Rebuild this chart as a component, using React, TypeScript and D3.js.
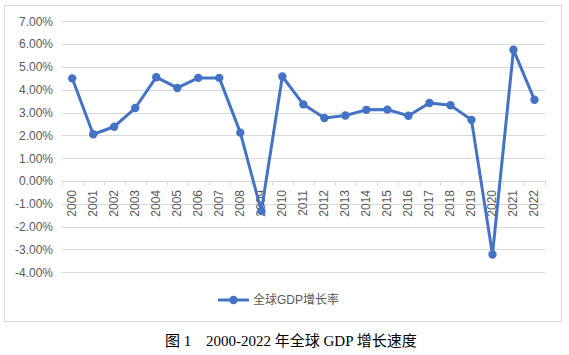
import React from "react";
import * as d3 from "d3";

const years = ["2000","2001","2002","2003","2004","2005","2006","2007","2008","2009","2010","2011","2012","2013","2014","2015","2016","2017","2018","2019","2020","2021","2022"];
const growth = [4.5, 2.05, 2.38, 3.2, 4.55, 4.08, 4.52, 4.52, 2.12, -1.32, 4.58, 3.36, 2.76, 2.87, 3.12, 3.13, 2.86, 3.42, 3.32, 2.68, -3.22, 5.75, 3.56];
const yTicks = [7, 6, 5, 4, 3, 2, 1, 0, -1, -2, -3, -4];
const seriesName = "全球GDP增长率";
const captionLabel = "图 1";
const captionText = "2000-2022 年全球 GDP 增长速度";

export default function App() {
  const W = 569, H = 355;
  const x = d3.scaleBand<string>().domain(years).range([61.7, 545]);
  const y = d3.scaleLinear().domain([-4, 7]).range([272.3, 21.3]);
  const line = d3.line<number>()
    .x((_, i) => (x(years[i]) as number) + x.bandwidth() / 2)
    .y((d) => y(d));
  const blue = "#4472C4";
  const grey = "#595959";
  const fontSans = "'Liberation Sans', Arial, sans-serif";
  return (
    <svg width={W} height={H} style={{ position: "absolute", left: 0, top: 0, background: "#fff" }}>
      <rect x={4.5} y={5.5} width={557} height={316} fill="#fff" stroke="#D9D9D9" strokeWidth={1} />
      {yTicks.map((t) => (
        <g key={t}>
          {t !== 0 && (
            <line x1={61.7} x2={545} y1={Math.round(y(t)) + 0.5} y2={Math.round(y(t)) + 0.5} stroke="#D9D9D9" strokeWidth={1} />
          )}
          <text x={53} y={y(t)} dy="0.36em" textAnchor="end" fontSize={12} fill={grey} fontFamily={fontSans}>
            {t.toFixed(2) + "%"}
          </text>
        </g>
      ))}
      <line x1={61.7} x2={545} y1={Math.round(y(0)) + 0.5} y2={Math.round(y(0)) + 0.5} stroke="#D9D9D9" strokeWidth={1} />
      {years.concat(["end"]).map((yr, i) => {
        const xx = 61.7 + i * x.step();
        return (
          <line key={"t" + i} x1={Math.round(xx) + 0.5} x2={Math.round(xx) + 0.5} y1={y(0)} y2={y(0) + 4.5} stroke="#D9D9D9" strokeWidth={1} />
        );
      })}
      {years.map((yr) => {
        const cx = (x(yr) as number) + x.bandwidth() / 2;
        return (
          <text key={yr} transform={`translate(${cx + 4},190) rotate(-90)`} textAnchor="end" fontSize={12} fill={grey} fontFamily={fontSans}>
            {yr}
          </text>
        );
      })}
      <path d={line(growth) || ""} fill="none" stroke={blue} strokeWidth={3} strokeLinejoin="round" />
      {growth.map((v, i) => (
        <circle key={i} cx={(x(years[i]) as number) + x.bandwidth() / 2} cy={y(v)} r={4.2} fill={blue} />
      ))}
      <g>
        <line x1={218} x2={249} y1={300} y2={300} stroke={blue} strokeWidth={3} />
        <circle cx={233.5} cy={300} r={4.2} fill={blue} />
        <text x={253} y={300} dy="0.36em" fontSize={12} fill={grey} fontFamily="'Liberation Sans', 'Noto Sans CJK SC', sans-serif">
          {seriesName}
        </text>
      </g>
      <text x={165} y={346} fontSize={15} fill="#000" fontFamily="'Liberation Serif', 'Noto Sans CJK SC', serif">
        {captionLabel}
      </text>
      <text x={206} y={346} fontSize={15} fill="#000" fontFamily="'Liberation Serif', 'Noto Sans CJK SC', serif">
        {captionText}
      </text>
    </svg>
  );
}
